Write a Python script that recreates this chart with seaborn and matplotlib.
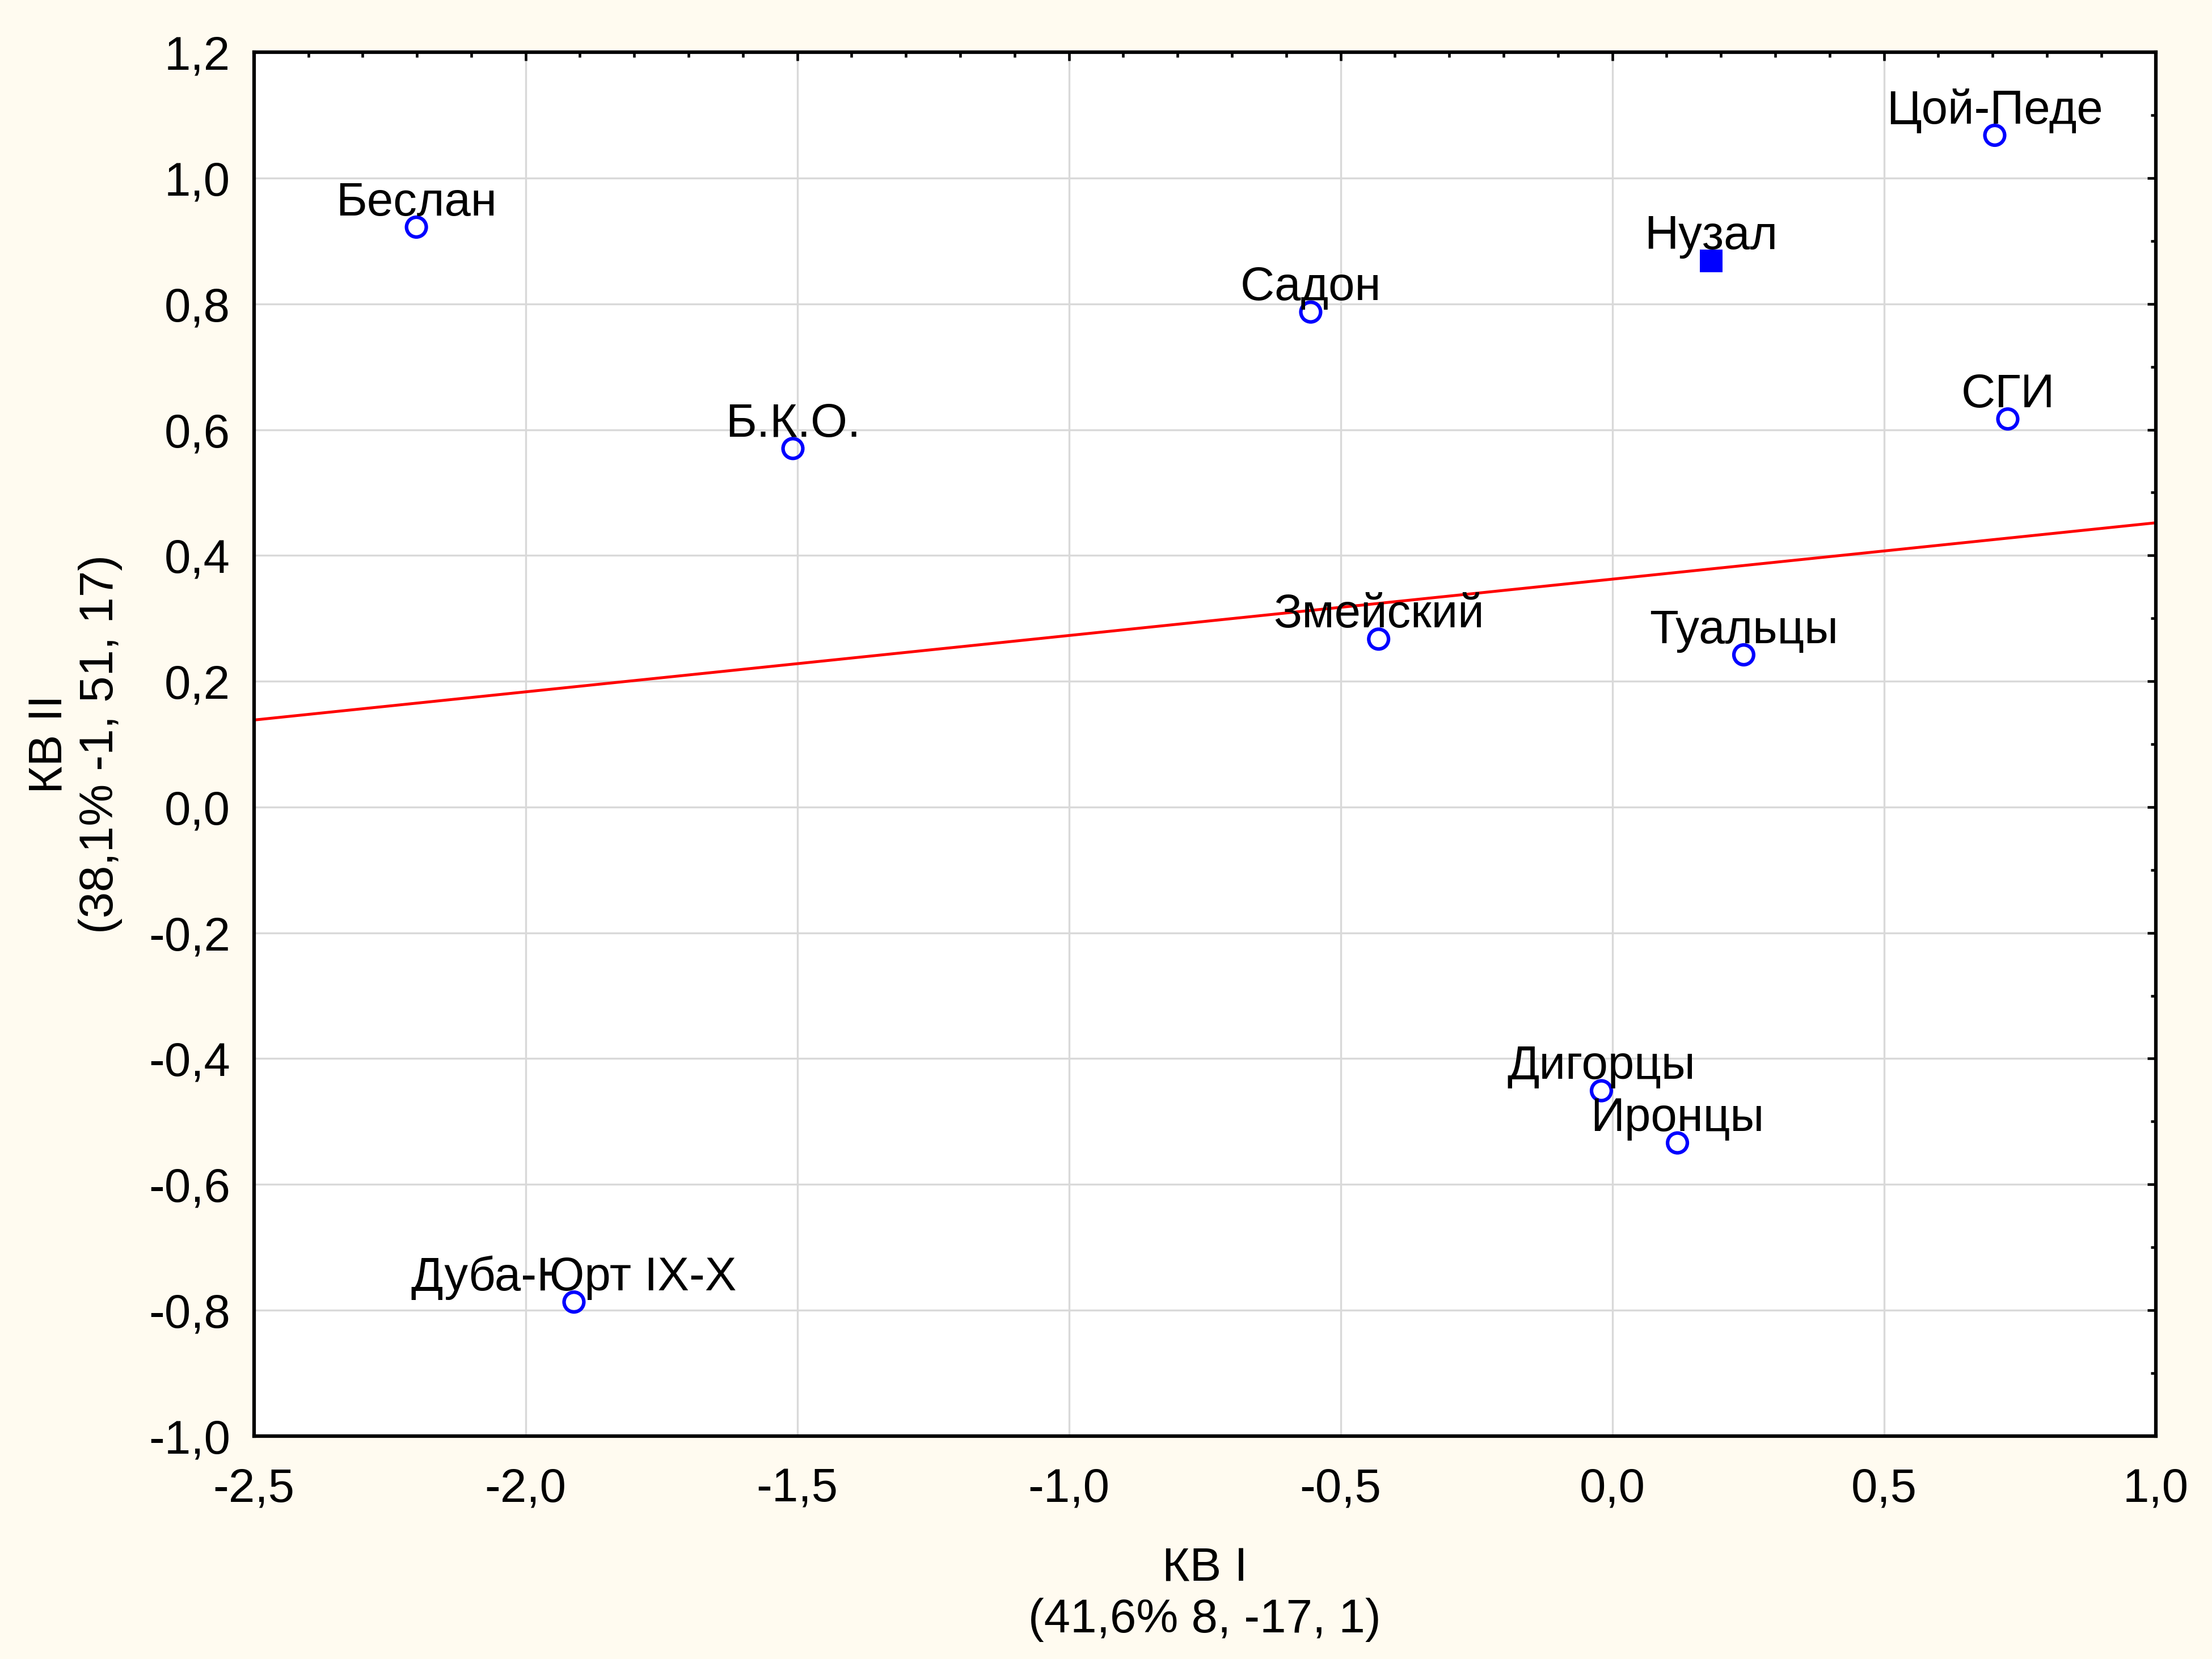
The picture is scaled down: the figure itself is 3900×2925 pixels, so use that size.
import pandas as pd
import numpy as np
import matplotlib.pyplot as plt
import seaborn as sns
from matplotlib.ticker import MultipleLocator, FuncFormatter

# данные
names = ['Беслан', 'Б.К.О.', 'Садон', 'Нузал', 'Цой-Педе', 'СГИ',
         'Змейский', 'Туальцы', 'Дигорцы', 'Иронцы', 'Дуба-Юрт IX-X']
kv1 = [-2.201, -1.508, -0.555, 0.182, 0.704, 0.728,
       -0.430, 0.242, -0.020, 0.120, -1.911]
kv2 = [0.922, 0.570, 0.787, 0.868, 1.068, 0.617,
       0.267, 0.242, -0.451, -0.534, -0.787]
highlight = 'Нузал'

x_label = 'КВ I\n(41,6% 8, -17, 1)'
y_label = 'КВ II\n(38,1% -1, 51, 17)'

sns.set_theme(style='white')
plt.rcParams['font.family'] = ['Liberation Sans', 'DejaVu Sans']
plt.rcParams['axes.unicode_minus'] = False

df = pd.DataFrame({'name': names, 'kv1': kv1, 'kv2': kv2})
mask = df['name'] == highlight

fig, ax = plt.subplots(figsize=(13, 9.75), dpi=300)
fig.patch.set_facecolor('#fffbf0')
ax.set_facecolor('white')
fig.subplots_adjust(left=0.1148, right=0.9745, top=0.9685, bottom=0.1344)

ax.set_xlim(-2.5, 1.0)
ax.set_ylim(-1.0, 1.2)

# линия регрессии по всем точкам
sns.regplot(data=df, x='kv1', y='kv2', scatter=False, ci=None, truncate=False,
            color='red', line_kws={'linewidth': 1.2, 'zorder': 2}, ax=ax)

sns.scatterplot(data=df[~mask], x='kv1', y='kv2', marker='o', s=70,
                facecolor='none', edgecolor='blue', linewidth=1.5,
                zorder=3, ax=ax)
sns.scatterplot(data=df[mask], x='kv1', y='kv2', marker='s', s=95,
                color='blue', linewidth=0, zorder=3, ax=ax)

for _, r in df.iterrows():
    ax.annotate(r['name'], (r['kv1'], r['kv2']), xytext=(0, 5),
                textcoords='offset points', ha='center', va='baseline',
                fontsize=20, color='black', zorder=4)

ax.set_xlim(-2.5, 1.0)
ax.set_ylim(-1.0, 1.2)

fmt = FuncFormatter(lambda v, _: f"{round(v, 2):.1f}".replace('.', ',').replace('-0,0', '0,0'))
ax.xaxis.set_major_locator(MultipleLocator(0.5))
ax.xaxis.set_minor_locator(MultipleLocator(0.1))
ax.yaxis.set_major_locator(MultipleLocator(0.2))
ax.yaxis.set_minor_locator(MultipleLocator(0.1))
ax.xaxis.set_major_formatter(fmt)
ax.yaxis.set_major_formatter(fmt)

ax.grid(True, which='major', color='#d9d9d9', linewidth=0.8)
ax.set_axisbelow(True)

ax.tick_params(which='both', direction='in', top=True, right=True,
               colors='black', width=1.1)
ax.tick_params(which='major', length=3.5, labelsize=20)
ax.tick_params(axis='x', which='major', pad=13)
ax.tick_params(axis='y', which='major', pad=10)
ax.tick_params(which='minor', length=2.2)

for sp in ax.spines.values():
    sp.set_visible(True)
    sp.set_color('black')
    sp.set_linewidth(1.5)

ax.set_xlabel(x_label, fontsize=20, labelpad=15, color='black')
ax.set_ylabel(y_label, fontsize=20, labelpad=11, color='black')

fig.savefig('out.png', dpi=300, facecolor=fig.get_facecolor())
